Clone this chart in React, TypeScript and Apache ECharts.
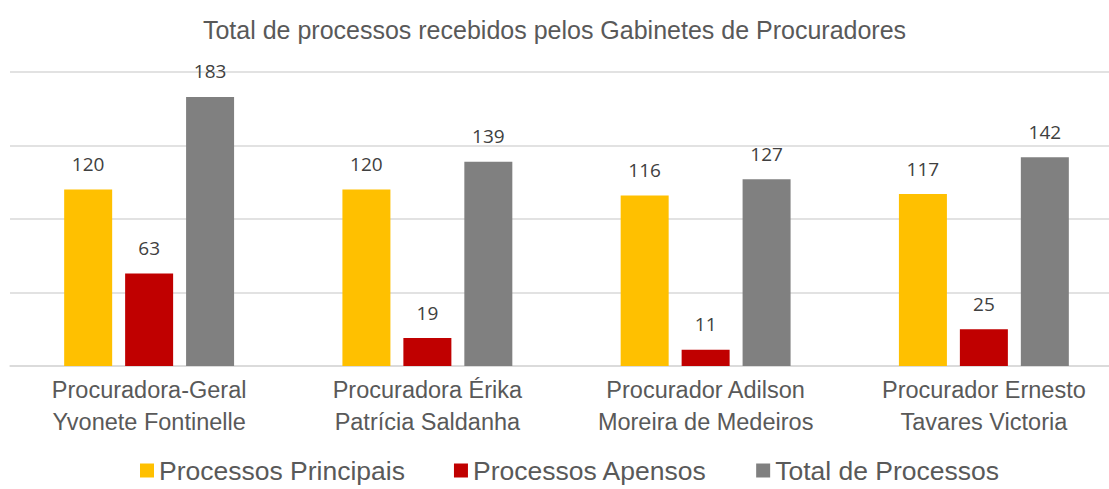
import React, { useEffect, useRef } from "react";
import * as echarts from "echarts";

const categories = [
  "Procuradora-Geral\nYvonete Fontinelle",
  "Procuradora Érika\nPatrícia Saldanha",
  "Procurador Adilson\nMoreira de Medeiros",
  "Procurador Ernesto\nTavares Victoria",
];
const principais = [120, 120, 116, 117];
const apensos = [63, 19, 11, 25];
const totais = [183, 139, 127, 142];
const seriesNames = ["Processos Principais", "Processos Apensos", "Total de Processos"];
const colors = ["#FFC000", "#C00000", "#808080"];

export default function App() {
  const ref = useRef<HTMLDivElement>(null);
  useEffect(() => {
    if (!ref.current) return;
    const chart = echarts.init(ref.current, undefined, { renderer: "svg" });
    const font = "Liberation Sans";
    const label = {
      show: true,
      position: "top",
      distance: 16,
      color: "#404040",
      fontSize: 19,
      fontFamily: "Open Sans",
    };
    const datas = [principais, apensos, totais];
    chart.setOption({
      animation: false,
      title: {
        text: "Total de processos recebidos pelos Gabinetes de Procuradores",
        left: "center",
        top: 12,
        textStyle: { color: "#595959", fontSize: 25, fontWeight: "normal", fontFamily: font },
      },
      legend: {
        bottom: 0,
        left: 135,
        itemWidth: 14,
        itemHeight: 14,
        itemGap: 49,
        icon: "rect",
        textStyle: { color: "#595959", fontSize: 26.5, fontFamily: font },
        data: seriesNames,
      },
      grid: { left: 10, right: -14, top: 72, bottom: 123, outerBoundsMode: "none", containLabel: false },
      xAxis: {
        type: "category",
        data: categories,
        axisLine: { lineStyle: { color: "#D9D9D9", width: 1.5 } },
        axisTick: { show: false },
        axisLabel: {
          interval: 0,
          color: "#595959",
          fontSize: 23.5,
          lineHeight: 32,
          margin: 8,
          fontFamily: font,
        },
      },
      yAxis: {
        type: "value",
        min: 0,
        max: 200,
        interval: 50,
        axisLabel: { show: false },
        axisLine: { show: false },
        axisTick: { show: false },
        splitLine: { lineStyle: { color: "#D9D9D9", width: 1.5 } },
      },
      series: seriesNames.map((name, i) => ({
        name,
        type: "bar",
        data: datas[i],
        barWidth: 48,
        barGap: "27%",
        itemStyle: { color: colors[i] },
        label,
      })),
    });
    return () => chart.dispose();
  }, []);
  return (
    <div
      ref={ref}
      style={{ position: "fixed", left: 0, top: 0, width: 1109, height: 489, background: "#fff" }}
    />
  );
}
